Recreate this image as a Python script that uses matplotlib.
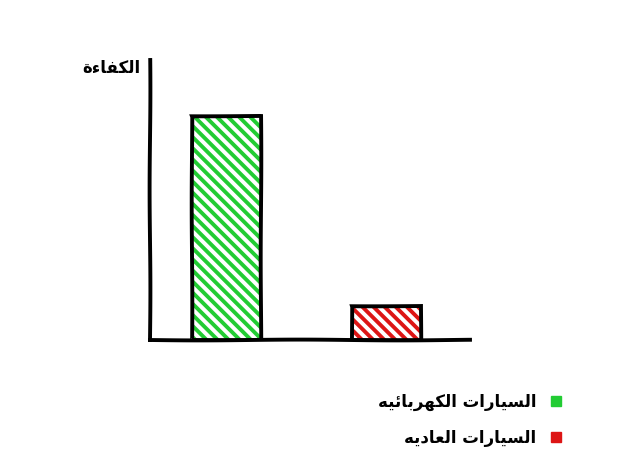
import matplotlib
matplotlib.use("Agg")
import matplotlib.pyplot as plt
from matplotlib.lines import Line2D

# ---- data ----
categories = ["السيارات الكهربائيه", "السيارات العاديه"]
values = [80, 12]
ylabel = "الكفاءة"
colors = ["#22cc33", "#dd1515"]

# ---- minimal Arabic shaping (matplotlib does no shaping / bidi) ----
FORMS = {'ء': (0xFE80, 'N'), 'ئ': (0xFE89, 'D'), 'ا': (0xFE8D, 'R'), 'ب': (0xFE8F, 'D'),
         'ة': (0xFE93, 'R'), 'ت': (0xFE95, 'D'), 'د': (0xFEA9, 'R'), 'ر': (0xFEAD, 'R'),
         'س': (0xFEB1, 'D'), 'ع': (0xFEC9, 'D'), 'ف': (0xFED1, 'D'), 'ك': (0xFED9, 'D'),
         'ل': (0xFEDD, 'D'), 'ه': (0xFEE9, 'D'), 'ي': (0xFEF1, 'D')}


def shape(s):
    out = []
    for i, ch in enumerate(s):
        if ch not in FORMS:
            out.append(ch)
            continue
        base, kind = FORMS[ch]
        prev = s[i - 1] if i > 0 else None
        nxt = s[i + 1] if i + 1 < len(s) else None
        pc = prev in FORMS and FORMS[prev][1] == 'D' and kind in 'DR'
        nc = kind == 'D' and nxt in FORMS and FORMS[nxt][1] in 'DR'
        if kind == 'N':
            off = 0
        elif kind == 'R':
            off = 1 if pc else 0
        else:
            off = 3 if (pc and nc) else 1 if pc else 2 if nc else 0
        out.append(chr(base + off))
    return ''.join(reversed(out))


plt.rcParams['font.family'] = ['DejaVu Sans']
plt.rcParams['hatch.linewidth'] = 2.8

fig = plt.figure(figsize=(6.4, 4.63), dpi=100)
ax = fig.add_axes([150 / 640, 1 - 340 / 463, 320 / 640, 280 / 463])

x = list(range(len(categories)))
width = 0.43
for xi, v, c in zip(x, values, colors):
    hb = ax.bar(xi, v, width=width, color='white', edgecolor=c, hatch='\\\\\\',
                linewidth=0, zorder=2)
    ob = ax.bar(xi, v, width=width, color='none', edgecolor='black', linewidth=2.8,
                zorder=3, joinstyle='miter')
    for p in ob:
        p.set_sketch_params(0.3, 200, 1)

ax.set_xlim(-0.48, 1.52)
ax.set_ylim(0, 100)
ax.set_xticks([])
ax.set_yticks([])
for side in ['top', 'right']:
    ax.spines[side].set_visible(False)
for side in ['left', 'bottom']:
    ax.spines[side].set_linewidth(2.8)
    ax.spines[side].set_sketch_params(0.4, 200, 1)

ax.text(-10 / 320, 0.97, shape(ylabel), transform=ax.transAxes, ha='right', va='center',
        fontsize=12, fontweight='bold')

handles = [Line2D([], [], linestyle='none', marker='s', markersize=7, color=c) for c in colors]
fig.legend(handles, [shape(c) for c in categories], loc='upper right',
           bbox_to_anchor=(588 / 640, 1 - 378 / 463), frameon=False, markerfirst=False,
           prop={'size': 12, 'weight': 'bold'}, labelspacing=1.05, handletextpad=0.2)

fig.savefig('out.png', dpi=100)
